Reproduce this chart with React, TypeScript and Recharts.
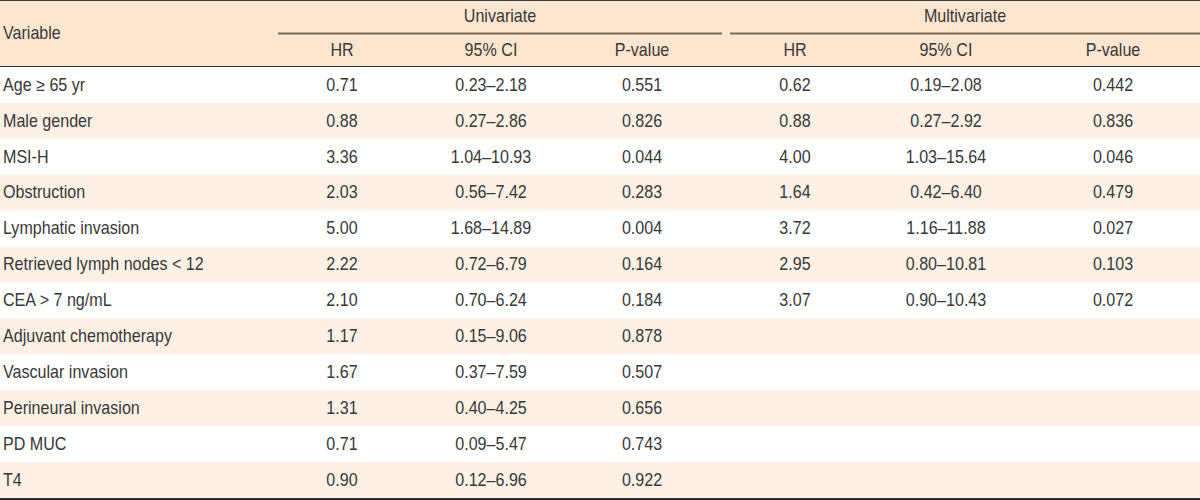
import React from 'react';
import { ComposedChart, Bar, XAxis, YAxis, Customized } from 'recharts';

const variables = [
  'Age ≥ 65 yr',
  'Male gender',
  'MSI-H',
  'Obstruction',
  'Lymphatic invasion',
  'Retrieved lymph nodes < 12',
  'CEA > 7 ng/mL',
  'Adjuvant chemotherapy',
  'Vascular invasion',
  'Perineural invasion',
  'PD MUC',
  'T4',
];
const uniHR = [0.71, 0.88, 3.36, 2.03, 5.0, 2.22, 2.1, 1.17, 1.67, 1.31, 0.71, 0.9];
const uniLow = [0.23, 0.27, 1.04, 0.56, 1.68, 0.72, 0.7, 0.15, 0.37, 0.4, 0.09, 0.12];
const uniHigh = [2.18, 2.86, 10.93, 7.42, 14.89, 6.79, 6.24, 9.06, 7.59, 4.25, 5.47, 6.96];
const uniP = [0.551, 0.826, 0.044, 0.283, 0.004, 0.164, 0.184, 0.878, 0.507, 0.656, 0.743, 0.922];
const multiHR = [0.62, 0.88, 4.0, 1.64, 3.72, 2.95, 3.07];
const multiLow = [0.19, 0.27, 1.03, 0.42, 1.16, 0.8, 0.9];
const multiHigh = [2.08, 2.92, 15.64, 6.4, 11.88, 10.81, 10.43];
const multiP = [0.442, 0.836, 0.046, 0.479, 0.027, 0.103, 0.072];

const subHeaders = ['HR', '95% CI', 'P-value', 'HR', '95% CI', 'P-value'];
const groupHeaders = ['Univariate', 'Multivariate'];
const firstHeader = 'Variable';

const W = 1200;
const H = 500;
const HEADER_H = 67;
const colCenters = [342, 491, 642, 795, 946, 1113];
const groupSpans = [[278, 722], [730, 1200]];

const FONT = "'Liberation Sans', Arial, sans-serif";
const FS = 17.5;
const SX = 0.92;
const TEXT = '#383838';
const STRIPE = '#fdf1e5';
const HEAD_BG = '#fde6d0';

const f2 = (v: number) => v.toFixed(2);
const f3 = (v: number) => v.toFixed(3);

const rows = variables.map((v, i) => ({
  variable: v,
  full: W,
  cells: [
    f2(uniHR[i]),
    `${f2(uniLow[i])}–${f2(uniHigh[i])}`,
    f3(uniP[i]),
    i < multiHR.length ? f2(multiHR[i]) : '',
    i < multiHR.length ? `${f2(multiLow[i])}–${f2(multiHigh[i])}` : '',
    i < multiHR.length ? f3(multiP[i]) : '',
  ],
}));

const T = ({ x, y, anchor, children }: any) => (
  <text
    transform={`translate(${x},${y}) scale(${SX},1)`}
    x={0}
    y={0}
    textAnchor={anchor || 'start'}
    dominantBaseline="central"
    fontFamily={FONT}
    fontSize={FS}
    fill={TEXT}
  >
    {children}
  </text>
);

const RowShape = (props: any) => {
  const { x, y, width, height, index, payload } = props;
  const cy = y + height / 2;
  return (
    <g>
      <rect x={x} y={y} width={width} height={height} fill={index % 2 === 1 ? STRIPE : '#ffffff'} />
      <T x={x + 3} y={cy}>{payload.variable}</T>
      {payload.cells.map((c: string, k: number) =>
        c ? (
          <T key={k} x={x + (width * colCenters[k]) / W} y={cy} anchor="middle">
            {c}
          </T>
        ) : null
      )}
    </g>
  );
};

const HeaderTick = (props: any) => {
  const { x, index } = props;
  return (
    <T x={x} y={50} anchor="middle">
      {subHeaders[index]}
    </T>
  );
};

const HeaderLayer = () => (
  <g>
    <T x={3} y={33}>{firstHeader}</T>
    {groupHeaders.map((g, i) => (
      <g key={g}>
        <T x={(groupSpans[i][0] + groupSpans[i][1]) / 2} y={16} anchor="middle">
          {g}
        </T>
        <line x1={groupSpans[i][0]} x2={groupSpans[i][1]} y1={33.5} y2={33.5} stroke="#7a6a58" strokeWidth={2} />
      </g>
    ))}
  </g>
);

export default function App() {
  return (
    <div
      style={{
        width: W,
        height: H,
        background: `linear-gradient(to bottom, #3a3a3a 0px, #3a3a3a 1px, ${HEAD_BG} 1px, ${HEAD_BG} 66px, #333333 66px, #333333 67px, #ffffff 67px, #ffffff 498px, #262626 498px, #262626 500px)`,
      }}
    >
      <style>{'body{margin:0;}'}</style>
      <ComposedChart
        width={W}
        height={H}
        data={rows}
        layout="vertical"
        margin={{ top: 0, right: 0, bottom: 2, left: 0 }}
        barCategoryGap={0}
      >
        <XAxis
          type="number"
          domain={[0, W]}
          orientation="top"
          height={HEADER_H}
          ticks={colCenters}
          tick={<HeaderTick />}
          axisLine={false}
          tickLine={false}
          interval={0}
          allowDataOverflow
        />
        <YAxis type="category" dataKey="variable" hide width={0} />
        <Bar dataKey="full" isAnimationActive={false} shape={<RowShape />} />
        <Customized component={HeaderLayer} />
      </ComposedChart>
    </div>
  );
}
